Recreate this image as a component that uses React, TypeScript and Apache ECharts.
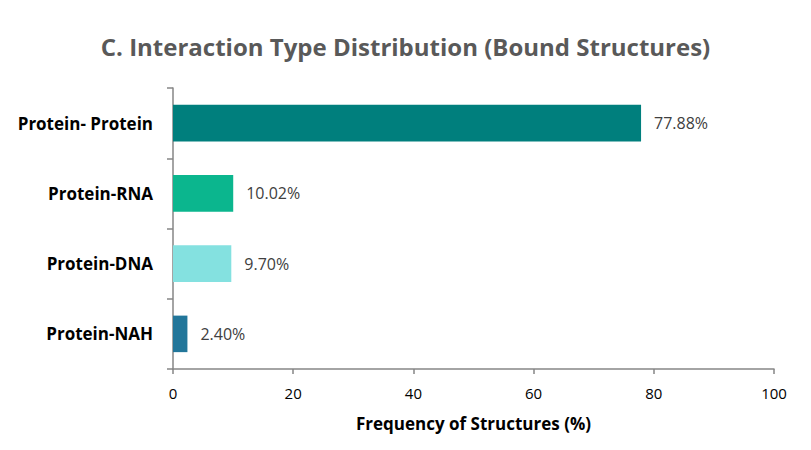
import React, { useEffect, useRef } from "react";
import * as echarts from "echarts";

const categories = ["Protein-NAH", "Protein-DNA", "Protein-RNA", "Protein- Protein"];
const values = [2.4, 9.7, 10.02, 77.88];
const barColors = ["#22769A", "#84E1E0", "#0BB68E", "#007F7D"];
const xTicks = [0, 20, 40, 60, 80, 100];
const titleText = "C. Interaction Type Distribution (Bound Structures)";
const xAxisTitle = "Frequency of Structures (%)";

export default function App() {
  const ref = useRef<HTMLDivElement>(null);
  useEffect(() => {
    const chart = echarts.init(ref.current!, undefined, { renderer: "svg" });
    const font = "'Open Sans', 'Noto Sans', sans-serif";
    chart.setOption({
      animation: false,
      title: {
        text: titleText,
        left: "center",
        top: 21,
        textStyle: { fontFamily: font, fontSize: 24, fontWeight: "bold", color: "#595959" },
      },
      grid: { left: 165, right: 29, top: 80, bottom: 73 },
      xAxis: {
        type: "value",
        min: xTicks[0],
        max: xTicks[xTicks.length - 1],
        interval: 20,
        name: xAxisTitle,
        nameLocation: "middle",
        nameGap: 46,
        nameTextStyle: { fontFamily: font, fontSize: 17, fontWeight: "bold", color: "#000" },
        axisLine: { show: true, lineStyle: { color: "#868686", width: 1.5 } },
        axisTick: { show: true, length: 5, lineStyle: { color: "#868686", width: 1.5 } },
        axisLabel: { fontFamily: font, fontSize: 15, color: "#000", margin: 16 },
        splitLine: { show: false },
      },
      yAxis: {
        type: "category",
        data: categories,
        axisLine: { show: true, lineStyle: { color: "#868686", width: 1.5 } },
        axisTick: { show: true, length: 6, lineStyle: { color: "#868686", width: 1.5 } },
        axisLabel: { fontFamily: font, fontSize: 17, fontWeight: "bold", color: "#000", margin: 20 },
      },
      series: [
        {
          type: "bar",
          data: values.map((v, i) => ({ value: v, itemStyle: { color: barColors[i] } })),
          barCategoryGap: "48%",
          label: {
            show: true,
            position: "right",
            distance: 13,
            fontFamily: font,
            fontSize: 16,
            color: "#404040",
            formatter: (p: any) => p.value.toFixed(2) + "%",
          },
        },
      ],
    });
    return () => chart.dispose();
  }, []);
  return <div ref={ref} style={{ width: 795, height: 434 }} />;
}
